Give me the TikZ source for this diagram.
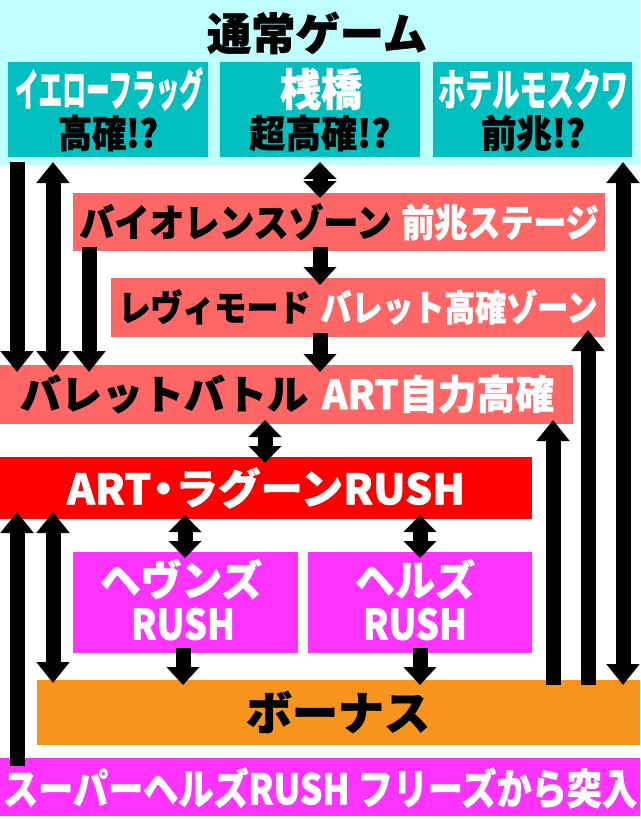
\documentclass[tikz,border=0pt]{standalone}
\usepackage{fontspec}
\setmainfont{Noto Sans CJK JP}[BoldFeatures={FakeBold=1.2}]
\usepackage{graphicx}
\usetikzlibrary{arrows.meta}
\definecolor{cyanbg}{HTML}{C0FFFF}
\definecolor{tealbox}{HTML}{00BFBF}
\definecolor{salmon}{HTML}{FF6666}
\definecolor{redbox}{HTML}{FF0000}
\definecolor{magbox}{HTML}{FF33FF}
\definecolor{orangebox}{HTML}{F7941D}
\newcommand\fw[2]{\resizebox{#1}{\height}{#2}}
\newcommand\fsz[1]{\fontsize{#1pt}{#1pt}\selectfont}
\begin{document}
\begin{tikzpicture}[x=1pt,y=-1pt,font=\bfseries,
  box/.style={inner sep=0pt,outer sep=0pt,anchor=north west},
  lbl/.style={inner sep=0pt,outer sep=0pt,anchor=center},
  arr/.style={line width=15pt,-{Triangle[width=32pt,length=21pt]}},
  darr/.style={line width=15pt,{Triangle[width=32pt,length=21pt]}-{Triangle[width=32pt,length=21pt]}},
  sdarr/.style={line width=15pt,{Triangle[width=32pt,length=17pt]}-{Triangle[width=32pt,length=17pt]}},
  sarr/.style={line width=15pt,-{Triangle[width=32pt,length=18pt]}}]
\useasboundingbox (0,0) rectangle (640,819);
\fill[white] (0,0) rectangle (640,819);
% top area
\node[box,fill=cyanbg,minimum width=640pt,minimum height=165pt] (top) at (0,0) {};
\node[lbl] (title) at (317,33) {\fsz{44}\fw{220pt}{通常ゲーム}};
\node[box,fill=tealbox,minimum width=200pt,minimum height=95pt] (yellow) at (8,62) {};
\node[box,fill=tealbox,minimum width=200pt,minimum height=95pt] (pier) at (220,62) {};
\node[box,fill=tealbox,minimum width=199pt,minimum height=95pt] (hotel) at (433,62) {};
\node[lbl,text=white] (yellowA) at (109,89) {\fsz{44}\fw{188pt}{イエローフラッグ}};
\node[lbl] (yellowB) at (108,133) {\fsz{38}\fw{100pt}{高確!?}};
\node[lbl,text=white] (pierA) at (321,89) {\fsz{44}\fw{82pt}{桟橋}};
\node[lbl] (pierB) at (320,133) {\fsz{38}\fw{141pt}{超高確!?}};
\node[lbl,text=white] (hotelA) at (533,89) {\fsz{44}\fw{190pt}{ホテルモスクワ}};
\node[lbl] (hotelB) at (533,133) {\fsz{38}\fw{104pt}{前兆!?}};
% salmon boxes
\node[box,fill=salmon,minimum width=532pt,minimum height=58pt] (violence) at (73,193) {};
\node[lbl] (violenceT) at (339,222) {\fsz{38}\fw{312pt}{バイオレンスゾーン}\hspace{10pt}\textcolor{white}{\fw{197pt}{前兆ステージ}}};
\node[box,fill=salmon,minimum width=494pt,minimum height=59pt] (levi) at (111,278) {};
\node[lbl] (leviT) at (358,307) {\fsz{36}\fw{192pt}{レヴィモード}\hspace{10pt}\textcolor{white}{\fw{277pt}{バレット高確ゾーン}}};
\node[box,fill=salmon,minimum width=573pt,minimum height=59pt] (bullet) at (0,365) {};
\node[lbl] (bulletT) at (287,394) {\fsz{40}\fw{288pt}{バレットバトル}\hspace{14pt}\textcolor{white}{\fw{232pt}{ART自力高確}}};
% ART
\node[box,fill=redbox,minimum width=532pt,minimum height=62pt] (art) at (0,457) {};
\node[lbl,text=white] (artT) at (266,488) {\fsz{42}\fw{398pt}{ART\hspace{-9pt}・\hspace{-9pt}ラグーンRUSH}};
% rush boxes
\node[box,fill=magbox,minimum width=225pt,minimum height=101pt] (heavens) at (73,552) {};
\node[box,fill=magbox,minimum width=224pt,minimum height=101pt] (hells) at (308,552) {};
\node[lbl,text=white] (heavensA) at (181,579) {\fsz{42}\fw{162pt}{ヘヴンズ}};
\node[lbl,text=white] (heavensB) at (183,624) {\fsz{42}\fw{104pt}{RUSH}};
\node[lbl,text=white] (hellsA) at (415,579) {\fsz{42}\fw{120pt}{ヘルズ}};
\node[lbl,text=white] (hellsB) at (415,624) {\fsz{42}\fw{104pt}{RUSH}};
% bonus
\node[box,fill=orangebox,minimum width=603pt,minimum height=65pt] (bonus) at (37,680) {};
\node[lbl] (bonusT) at (338,712) {\fsz{46}\fw{184pt}{ボーナス}};
% super hells
\node[box,fill=magbox,minimum width=640pt,minimum height=58pt] (super) at (0,758) {};
\node[lbl,text=white] (superT) at (320,788) {\fsz{42}\fw{634pt}{スーパーヘルズRUSH フリーズから突入}};
% columns
\coordinate (cA) at (17,0);
\coordinate (cB) at (53,0);
\coordinate (cC) at (89,0);
\coordinate (cM) at (320,0);
\coordinate (cN) at (265,0);
\coordinate (cH1) at (185,0);
\coordinate (cH2) at (420,0);
\coordinate (cD1) at (183,0);
\coordinate (cR1) at (553,0);
\coordinate (cR2) at (588,0);
\coordinate (cR3) at (623,0);
% arrows
\draw[arr,shorten <=5pt,shorten >=-7pt] (yellow.south -| cA) -- (bullet.north -| cA);
\draw[darr,shorten <=5pt,shorten >=-7pt] (yellow.south -| cB) -- (bullet.north -| cB);
\draw[arr,shorten <=-4pt,shorten >=-7pt] (violence.south -| cC) -- (bullet.north -| cC);
\draw[sdarr,shorten <=5pt,shorten >=-5pt] (pier.south -| cM) -- (violence.north -| cM);
\draw[sarr,shorten <=-4pt,shorten >=-7pt] (violence.south -| cM) -- (levi.north -| cM);
\draw[sarr,shorten <=-4pt,shorten >=-7pt] (levi.south -| cM) -- (bullet.north -| cM);
\draw[sdarr,shorten <=-4pt,shorten >=-6pt] (bullet.south -| cN) -- (art.north -| cN);
\draw[sdarr,shorten <=-4pt,shorten >=-6pt] (art.south -| cH1) -- (heavens.north -| cH1);
\draw[sdarr,shorten <=-4pt,shorten >=-6pt] (art.south -| cH2) -- (hells.north -| cH2);
\draw[sarr,shorten <=-5pt,shorten >=-5pt] (heavens.south -| cD1) -- (bonus.north -| cD1);
\draw[sarr,shorten <=-5pt,shorten >=-5pt] (hells.south -| cH2) -- (bonus.north -| cH2);
\draw[arr,shorten <=-8pt,shorten >=-7pt] (super.north -| cA) -- (art.south -| cA);
\draw[darr,shorten <=-7pt,shorten >=-3pt] (art.south -| cB) -- (bonus.north -| cB);
\draw[arr,shorten <=-5pt,shorten >=-4pt] (bonus.north -| cR1) -- (bullet.south -| cR1);
\draw[arr,shorten <=-5pt,shorten >=-7pt] (bonus.north -| cR2) -- (levi.south -| cR2);
\draw[darr,shorten <=5pt,shorten >=-5pt] (hotel.south -| cR3) -- (bonus.north -| cR3);
\end{tikzpicture}
\end{document}
